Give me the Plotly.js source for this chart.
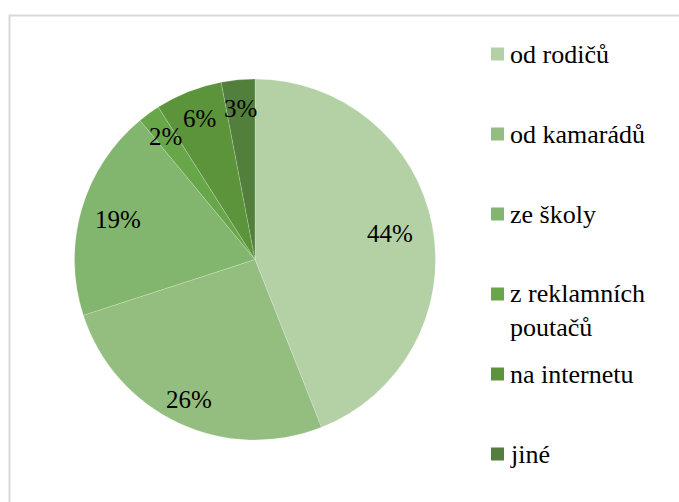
<!DOCTYPE html>
<html>
<head>
<meta charset="utf-8">
<script src="https://cdn.plot.ly/plotly-3.0.1.min.js"></script>
<style>
html,body{margin:0;padding:0;background:#fff}
#chart{width:679px;height:502px}
</style>
</head>
<body>
<div id="chart"></div>
<script>
var labels = ["od rodičů", "od kamarádů", "ze školy", "z reklamních<br>poutačů", "na internetu", "jiné"];
var values = [44, 26, 19, 2, 6, 3];
var colors = ["#b4d1a6", "#93be80", "#82b56d", "#68a64a", "#5b943a", "#527f3c"];

var W = 679, H = 502;
var FONT = "Times New Roman";

// pie geometry (pixels) -> domain
var PX0 = 73, PX1 = 437, PY0 = 79, PY1 = 440;
var CX = (PX0 + PX1) / 2, CY = (PY0 + PY1) / 2;
var R = Math.min(PX1 - PX0, PY1 - PY0) / 2;
// radial placement of data labels (fraction of radius), Excel "best fit"-like
var labelRadius = [0.76, 0.86, 0.79, 0.84, 0.84, 0.84];

var annotations = [];
var shapes = [];
// chart border
shapes.push({type: "rect", xref: "paper", yref: "paper",
  x0: 9.5 / W, x1: 1 + 5 / W, y0: -5 / H, y1: 1 - 15.5 / H,
  line: {color: "#d9d9d9", width: 2}, fillcolor: "rgba(0,0,0,0)", layer: "below"});

// data labels: angle from cumulative values (clockwise from 12 o'clock)
var total = values.reduce(function (a, b) { return a + b; }, 0);
var cum = 0;
values.forEach(function (v, i) {
  var mid = (cum + v / 2) / total * 2 * Math.PI;
  cum += v;
  var r = R * labelRadius[i];
  var px = CX + r * Math.sin(mid);
  var py = CY - r * Math.cos(mid);
  annotations.push({xref: "paper", yref: "paper", x: px / W, y: 1 - py / H,
    xanchor: "center", yanchor: "middle", showarrow: false,
    text: Math.round(v / total * 100) + "%",
    font: {family: FONT, size: 25, color: "#000"}});
});

// legend (built from labels/colors)
labels.forEach(function (lab, i) {
  var yc = 54 + 80 * i;
  var nLines = lab.split("<br>").length;
  shapes.push({type: "rect", xref: "paper", yref: "paper",
    x0: 491 / W, x1: 504 / W, y0: 1 - (yc + 6.5) / H, y1: 1 - (yc - 6.5) / H,
    line: {width: 0}, fillcolor: colors[i]});
  annotations.push({xref: "paper", yref: "paper", x: 508 / W,
    y: 1 - (yc + (nLines - 1) * 16) / H,
    xanchor: "left", yanchor: "middle", align: "left", showarrow: false,
    text: lab, font: {family: FONT, size: 26, color: "#000"}});
});

var data = [{
  type: "pie",
  labels: labels,
  values: values,
  sort: false,
  direction: "clockwise",
  rotation: 0,
  marker: {colors: colors, line: {color: "rgba(255,255,255,0.4)", width: 0.5}},
  textinfo: "none",
  hoverinfo: "none",
  domain: {x: [PX0 / W, PX1 / W], y: [1 - PY1 / H, 1 - PY0 / H]},
  showlegend: false
}];

var layout = {
  width: W, height: H,
  margin: {l: 0, r: 0, t: 0, b: 0},
  paper_bgcolor: "#fff",
  showlegend: false,
  shapes: shapes,
  annotations: annotations
};

Plotly.newPlot("chart", data, layout, {staticPlot: true}).then(function (gd) {
  gd.querySelectorAll("text").forEach(function (t) {
    t.style.setProperty("font-family", "'Liberation Serif', 'Times New Roman', serif", "important");
  });
});
</script>
</body>
</html>
